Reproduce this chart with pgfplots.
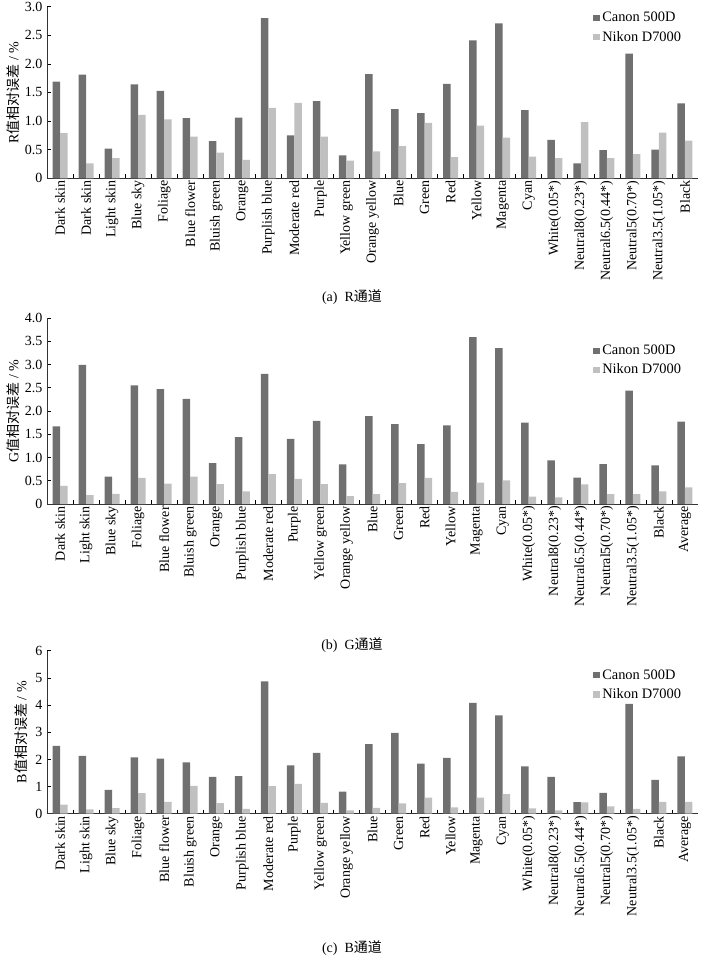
\documentclass[border=0pt]{standalone}
\usepackage{fontspec}
\setmainfont{Liberation Serif}
\newfontfamily\cjk{Noto Sans CJK SC}
\usepackage{pgfplots}
\usepackage{pgfplotstable}
\pgfplotsset{compat=1.18}
\definecolor{canon}{RGB}{112,112,112}
\definecolor{nikon}{RGB}{192,192,192}

\pgfplotstableread{
i c n
0 1.69 0.79
1 1.81 0.26
2 0.52 0.35
3 1.64 1.11
4 1.53 1.03
5 1.05 0.73
6 0.65 0.45
7 1.06 0.32
8 2.80 1.23
9 0.75 1.32
10 1.35 0.73
11 0.40 0.31
12 1.82 0.47
13 1.21 0.56
14 1.14 0.97
15 1.65 0.37
16 2.41 0.92
17 2.71 0.71
18 1.19 0.38
19 0.67 0.35
20 0.26 0.98
21 0.49 0.35
22 2.18 0.42
23 0.50 0.80
24 1.31 0.66
}\Rdata

\pgfplotstableread{
i c n
0 1.67 0.39
1 2.99 0.19
2 0.59 0.22
3 2.55 0.56
4 2.47 0.44
5 2.26 0.59
6 0.88 0.43
7 1.44 0.27
8 2.80 0.64
9 1.40 0.54
10 1.79 0.43
11 0.85 0.17
12 1.89 0.21
13 1.72 0.45
14 1.29 0.56
15 1.69 0.26
16 3.59 0.46
17 3.35 0.51
18 1.75 0.16
19 0.94 0.14
20 0.57 0.42
21 0.86 0.21
22 2.44 0.21
23 0.83 0.27
24 1.77 0.36
}\Gdata

\pgfplotstableread{
i c n
0 2.50 0.34
1 2.13 0.16
2 0.88 0.21
3 2.07 0.76
4 2.03 0.44
5 1.89 1.03
6 1.36 0.39
7 1.38 0.18
8 4.87 1.02
9 1.78 1.10
10 2.24 0.40
11 0.81 0.12
12 2.56 0.22
13 2.98 0.38
14 1.84 0.59
15 2.06 0.23
16 4.08 0.59
17 3.62 0.72
18 1.74 0.20
19 1.36 0.12
20 0.43 0.42
21 0.77 0.27
22 4.04 0.18
23 1.25 0.44
24 2.11 0.44
}\Bdata

\pgfplotsset{
  panel/.style={
    anchor=south west, scale only axis, width=488.25pt,
    xmin=-0.5, xmax=24.5, ymin=0,
    axis x line*=bottom, axis y line*=left,
    axis line style={-, line width=0.6pt, black!80},
    enlargelimits=false,
    xtick={0,...,24},
    minor xtick={0.5,1.5,...,23.5},
    major x tick style={draw=none},
    minor x tick style={line width=0.5pt, black},
    y tick style={line width=0.5pt, black},
    major tick length=3pt, minor tick length=3pt,
    tick align=inside,
    tick label style={font=\fontsize{10.5}{12}\selectfont},
    xticklabel style={rotate=90, anchor=east, inner sep=1.5pt},
    label style={font=\fontsize{10.5}{12}\selectfont},
    legend style={draw=none, fill=none, inner sep=0pt, anchor=north west,
      font=\fontsize{10.8}{12}\selectfont, row sep=1.5pt, cells={anchor=west}},
  },
  cbar/.style={ybar, bar width=0.288, bar shift=-0.144, fill=canon, draw=none,
    legend image code/.code={\fill[canon] (0pt,-2.3pt) rectangle (4.6pt,2.3pt);}},
  nbar/.style={ybar, bar width=0.288, bar shift=0.144, fill=nikon, draw=none,
    legend image code/.code={\fill[nikon] (0pt,-2.3pt) rectangle (4.6pt,2.3pt);}},
}

\begin{document}
\begin{tikzpicture}
\useasboundingbox (0,0) rectangle (525pt,-719.25pt);

% (a) R
\begin{axis}[panel, at={(35.25pt,-133.7pt)}, height=128.7pt, ymax=3.0,
  ytick={0,0.5,1.0,1.5,2.0,2.5,3.0},
  yticklabels={0,0.5,1.0,1.5,2.0,2.5,3.0},
  xticklabels={Dark skin,Dark skin,Light skin,Blue sky,Foliage,Blue flower,Bluish green,Orange,Purplish blue,Moderate red,Purple,Yellow green,Orange yellow,Blue,Green,Red,Yellow,Magenta,Cyan,White(0.05*),Neutral8(0.23*),Neutral6.5(0.44*),Neutral5(0.70*),Neutral3.5(1.05*),Black},
  ylabel={R{\cjk 值相对误差} / \%},
  ylabel style={at={(axis description cs:-0.052,0.5)}, anchor=center},
  legend style={at={(0.839,0.985)}},
]
\addplot[cbar] table[x=i,y=c]{\Rdata};
\addplot[nbar] table[x=i,y=n]{\Rdata};
\legend{Canon 500D,Nikon D7000}
\end{axis}

% (b) G
\begin{axis}[panel, at={(35.25pt,-378pt)}, height=139.5pt, ymax=4.0,
  ytick={0,0.5,1.0,1.5,2.0,2.5,3.0,3.5,4.0},
  yticklabels={0,0.5,1.0,1.5,2.0,2.5,3.0,3.5,4.0},
  xticklabels={Dark skin,Light skin,Blue sky,Foliage,Blue flower,Bluish green,Orange,Purplish blue,Moderate red,Purple,Yellow green,Orange yellow,Blue,Green,Red,Yellow,Magenta,Cyan,White(0.05*),Neutral8(0.23*),Neutral6.5(0.44*),Neutral5(0.70*),Neutral3.5(1.05*),Black,Average},
  ylabel={G{\cjk 值相对误差} / \%},
  ylabel style={at={(axis description cs:-0.052,0.5)}, anchor=center},
  legend style={at={(0.839,0.871)}},
]
\addplot[cbar] table[x=i,y=c]{\Gdata};
\addplot[nbar] table[x=i,y=n]{\Gdata};
\legend{Canon 500D,Nikon D7000}
\end{axis}

% (c) B
\begin{axis}[panel, at={(35.25pt,-610.3pt)}, height=122.3pt, ymax=6,
  ytick={0,1,2,3,4,5,6},
  yticklabels={0,1,2,3,4,5,6},
  xticklabels={Dark skin,Light skin,Blue sky,Foliage,Blue flower,Bluish green,Orange,Purplish blue,Moderate red,Purple,Yellow green,Orange yellow,Blue,Green,Red,Yellow,Magenta,Cyan,White(0.05*),Neutral8(0.23*),Neutral6.5(0.44*),Neutral5(0.70*),Neutral3.5(1.05*),Black,Average},
  ylabel={B{\cjk 值相对误差} / \%},
  ylabel style={at={(axis description cs:-0.04,0.5)}, anchor=center},
  legend style={at={(0.839,0.902)}},
]
\addplot[cbar] table[x=i,y=c]{\Bdata};
\addplot[nbar] table[x=i,y=n]{\Bdata};
\legend{Canon 500D,Nikon D7000}
\end{axis}

\node[font=\fontsize{10.5}{12}\selectfont] at (264pt,-222.75pt) {(a)\ \ R{\cjk 通道}};
\node[font=\fontsize{10.5}{12}\selectfont] at (264pt,-483.75pt) {(b)\ \ G{\cjk 通道}};
\node[font=\fontsize{10.5}{12}\selectfont] at (264pt,-711pt) {(c)\ \ B{\cjk 通道}};
\end{tikzpicture}
\end{document}
